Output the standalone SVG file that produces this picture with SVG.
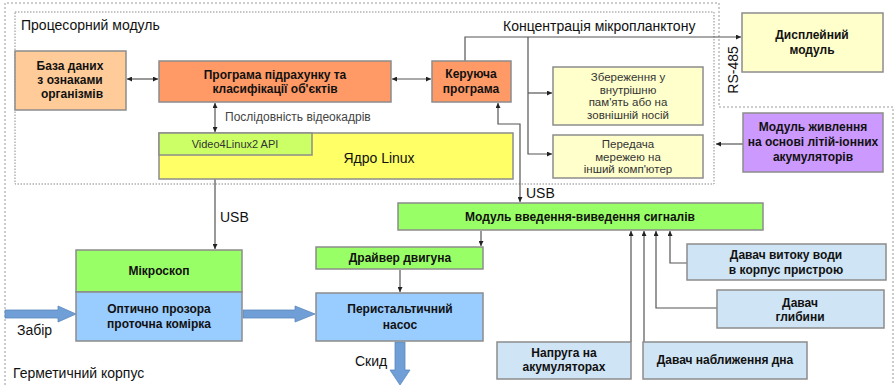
<svg xmlns="http://www.w3.org/2000/svg" width="895" height="385" viewBox="0 0 895 385">
<style>
text{font-family:"Liberation Sans",Arial,sans-serif;}
.b{font-weight:bold;font-size:12px;fill:#111;text-anchor:middle;}
.n{font-size:14px;fill:#111;}
.s{font-size:11.5px;fill:#333;text-anchor:middle;}
.box{stroke:#8c8c8c;stroke-width:1.5;}
.ln{fill:none;stroke:#555;stroke-width:1.2;}
.big{fill:#6f9fd6;stroke:#5a88bf;stroke-width:0.8;}
</style>
<defs>
<marker id="ae" viewBox="0 0 8 8" refX="8" refY="4" markerWidth="5" markerHeight="5" orient="auto-start-reverse" markerUnits="userSpaceOnUse">
<path d="M0,0 L8,4 L0,8 z" fill="#222"/>
</marker>
</defs>
<rect width="895" height="385" fill="#fff"/>
<g id="frames">
<path d="M5,385 V3 H719 V107 H893 V385" fill="none" stroke="#9a9a9a" stroke-width="1" stroke-dasharray="2,2"/>
<rect x="15" y="12" width="699" height="172" fill="none" stroke="#8a8a8a" stroke-width="1" stroke-dasharray="1.5,1.5"/>
<text class="n" x="21" y="30">Процесорний модуль</text>
<text class="n" x="13" y="378">Герметичний корпус</text>
</g>
<g id="connectors">
<path class="ln" d="M127,79 H158" marker-start="url(#ae)" marker-end="url(#ae)"/>
<path class="ln" d="M392,79 H431" marker-start="url(#ae)" marker-end="url(#ae)"/>
<path class="ln" d="M215,103 V132" marker-start="url(#ae)" marker-end="url(#ae)"/>
<text x="225" y="121" style="font-size:12px;fill:#444">Послідовність відеокадрів</text>
<path class="ln" d="M215,156 V249" marker-start="url(#ae)" marker-end="url(#ae)"/>
<text class="n" x="220" y="222">USB</text>
<path class="ln" d="M465,61 V37 H741" marker-end="url(#ae)"/>
<path class="ln" d="M528,37 V154 H552" marker-end="url(#ae)"/>
<path class="ln" d="M528,93 H552" marker-end="url(#ae)"/>
<text class="n" x="503" y="31">Концентрація мікропланктону</text>
<text class="n" transform="translate(738,70) rotate(-90)" text-anchor="middle">RS-485</text>
<path class="ln" d="M743,144 H716" marker-end="url(#ae)"/>
<path class="ln" d="M520,202 V124 H498 V103" marker-start="url(#ae)" marker-end="url(#ae)"/>
<text class="n" x="526" y="198">USB</text>
<path class="ln" d="M481,231 V246" marker-end="url(#ae)"/>
<path class="ln" d="M400,270 V292" marker-end="url(#ae)"/>
<path class="ln" d="M687,263 H670 V231" marker-end="url(#ae)"/>
<path class="ln" d="M717,308 H656 V231" marker-end="url(#ae)"/>
<path class="ln" d="M631,342 V231" marker-end="url(#ae)"/>
<path class="ln" d="M644,342 V231" marker-end="url(#ae)"/>
<path class="big" d="M5,310 H58 V306 L76,314 L58,322 V318 H5 z"/>
<text class="n" x="17" y="335">Забір</text>
<path class="big" d="M243,310 H295 V306 L315,314 L295,322 V318 H243 z"/>
<path class="big" d="M395,342 H405 V370 H410 L400,385 L390,370 H395 z"/>
<text class="n" x="355" y="366">Скид</text>
</g>
<g id="db">
<rect class="box" x="15" y="51" width="111" height="59" fill="#ffcc99"/>
<text class="b" x="70" y="70">База даних</text>
<text class="b" x="70" y="84">з ознаками</text>
<text class="b" x="72" y="98">організмів</text>
</g>
<g id="counter">
<rect class="box" x="159" y="61" width="232" height="41" fill="#ff9966"/>
<text class="b" x="275" y="79">Програма підрахунку та</text>
<text class="b" x="275" y="93">класифікації об'єктів</text>
</g>
<g id="control">
<rect class="box" x="432" y="61" width="79" height="41" fill="#ff9966"/>
<text class="b" x="471" y="78">Керуюча</text>
<text class="b" x="471" y="93">програма</text>
</g>
<g id="kernel">
<rect class="box" x="159" y="133" width="354" height="46" fill="#ffff66"/>
<text x="379" y="163" style="font-size:14px;fill:#111;text-anchor:middle">Ядро Linux</text>
</g>
<g id="v4l2">
<rect class="box" x="159" y="133" width="153" height="22" fill="#ccff66"/>
<text x="235" y="148" style="font-size:11px;fill:#333;text-anchor:middle">Video4Linux2 API</text>
</g>
<g id="storage">
<rect class="box" x="553" y="67" width="150" height="58" fill="#ffffcc"/>
<text class="s" x="628" y="81">Збереження у</text>
<text class="s" x="628" y="94">внутрішню</text>
<text class="s" x="628" y="106">пам'ять або на</text>
<text class="s" x="628" y="119">зовнішній носій</text>
</g>
<g id="network">
<rect class="box" x="553" y="135" width="150" height="43" fill="#ffffcc"/>
<text class="s" x="628" y="148">Передача</text>
<text class="s" x="628" y="161">мережею на</text>
<text class="s" x="628" y="173">інший комп'ютер</text>
</g>
<g id="display">
<rect class="box" x="742" y="13" width="141" height="59" fill="#ffffcc"/>
<text class="b" x="812" y="39">Дисплейний</text>
<text class="b" x="812" y="54">модуль</text>
</g>
<g id="power">
<rect class="box" x="743" y="113" width="140" height="59" fill="#cc99ff"/>
<text class="b" x="813" y="131">Модуль живлення</text>
<text class="b" x="813" y="146">на основі літій-іонних</text>
<text class="b" x="813" y="161">акумуляторів</text>
</g>
<g id="io">
<rect class="box" x="398" y="203" width="365" height="27" fill="#99ff66"/>
<text class="b" x="580" y="221">Модуль введення-виведення сигналів</text>
</g>
<g id="driver">
<rect class="box" x="316" y="247" width="167" height="22" fill="#99ff66"/>
<text class="b" x="400" y="262">Драйвер двигуна</text>
</g>
<g id="pump">
<rect class="box" x="316" y="293" width="167" height="48" fill="#99ccff"/>
<text class="b" x="400" y="313">Перистальтичний</text>
<text class="b" x="400" y="329">насос</text>
</g>
<g id="microscope">
<rect class="box" x="76" y="250" width="166" height="42" fill="#99ff66"/>
<text class="b" x="159" y="275">Мікроскоп</text>
</g>
<g id="cell">
<rect class="box" x="76" y="292" width="166" height="49" fill="#99ccff"/>
<text class="b" x="159" y="313">Оптично прозора</text>
<text class="b" x="159" y="328">проточна комірка</text>
</g>
<g id="leak">
<rect class="box" x="687" y="244" width="199" height="36" fill="#cfe4f4"/>
<text class="b" x="786" y="259">Давач витоку води</text>
<text class="b" x="786" y="274">в корпус пристрою</text>
</g>
<g id="depth">
<rect class="box" x="717" y="290" width="167" height="38" fill="#cfe4f4"/>
<text class="b" x="800" y="307">Давач</text>
<text class="b" x="800" y="321">глибини</text>
</g>
<g id="voltage">
<rect class="box" x="497" y="342" width="134" height="37" fill="#cfe4f4"/>
<text class="b" x="564" y="357">Напруга на</text>
<text class="b" x="564" y="371">акумуляторах</text>
</g>
<g id="bottom">
<rect class="box" x="643" y="342" width="164" height="37" fill="#cfe4f4"/>
<text class="b" x="725" y="364">Давач наближення дна</text>
</g>
</svg>
